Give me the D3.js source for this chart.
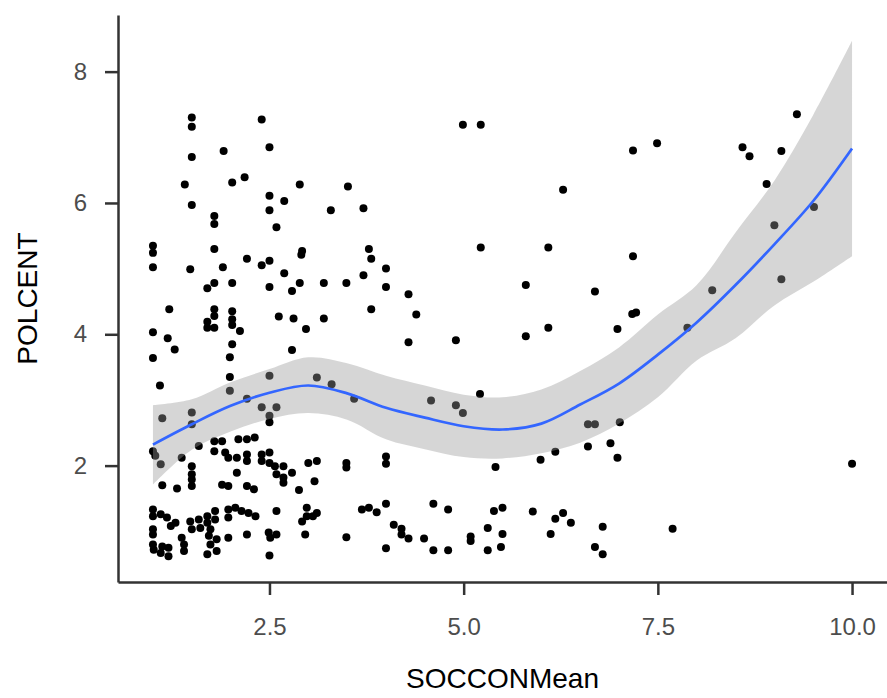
<!doctype html>
<html>
<head>
<meta charset="utf-8">
<title>POLCENT by SOCCONMean</title>
<script src="https://d3js.org/d3.v7.min.js"></script>
<style type="text/css">
  body { margin:0; background:#fff; }
  text { font-family:'Liberation Sans', Arial, sans-serif; }
</style>
</head>
<body>
<svg></svg>
<script type="text/javascript">

let socconMean = [
  1.50,1.50,2.40,1.50,1.91,2.50,1.41,2.02,2.18,2.89,2.50,2.69,2.50,1.50,1.79,1.79,2.59,1.00,1.00,1.79,
  2.92,2.91,2.21,2.50,2.40,1.00,1.48,1.90,2.69,1.79,1.70,2.02,2.50,2.89,2.79,1.21,1.79,1.79,1.70,1.70,
  1.79,2.02,2.02,2.02,2.12,2.62,2.81,2.97,1.00,1.19,1.28,1.00,2.02,1.99,2.79,1.09,1.99,1.99,2.50,2.21,
  1.12,1.50,1.50,2.40,2.59,2.50,2.50,1.00,1.03,1.10,1.59,1.37,1.50,1.50,1.50,1.50,1.12,1.31,1.79,1.89,
  1.79,1.93,2.10,2.21,2.31,1.97,2.08,2.21,2.21,2.08,1.89,1.97,2.21,2.30,2.40,2.40,2.50,2.50,2.57,2.68,
  2.59,2.68,2.79,2.68,2.88,1.00,1.00,1.10,1.18,1.23,1.29,1.00,1.00,1.00,1.01,1.10,1.20,1.20,1.12,1.37,
  1.40,1.40,1.48,1.50,1.59,1.61,1.70,1.70,1.74,1.80,1.80,1.72,1.82,1.74,1.70,1.82,1.97,1.97,2.06,2.14,
  2.23,2.32,1.97,2.21,2.59,2.49,2.59,2.51,2.50,2.96,4.99,5.22,7.18,7.49,6.28,5.22,6.09,7.18,5.80,6.69,
  5.80,6.09,6.98,7.17,7.22,5.21,6.60,6.69,7.01,6.60,6.89,6.98,6.18,5.99,5.41,5.39,5.50,5.89,6.18,6.28,
  6.38,5.31,5.50,5.09,5.09,5.31,5.48,6.12,6.79,6.69,6.79,9.29,8.59,8.68,9.09,8.90,9.51,9.00,9.09,8.20,
  7.88,10.00,7.69,3.51,3.29,3.71,3.78,3.81,4.00,3.71,3.20,3.49,4.00,4.29,3.81,4.39,3.20,4.29,4.90,3.11,
  3.30,3.59,4.58,4.90,4.99,3.00,3.11,3.49,3.49,4.00,4.00,3.08,2.98,2.98,2.92,3.06,3.11,3.49,3.69,3.78,
  3.88,4.00,4.00,4.10,4.20,4.20,4.29,4.49,4.61,4.80,4.61,4.80
];
let polcent = [
  7.30,7.16,7.27,6.70,6.79,6.85,6.28,6.31,6.39,6.28,6.11,6.03,5.89,5.97,5.80,5.68,5.63,5.35,5.24,5.30,
  5.27,5.21,5.15,5.12,5.05,5.02,4.99,5.02,4.93,4.78,4.70,4.78,4.72,4.78,4.66,4.38,4.38,4.28,4.19,4.10,
  4.10,4.35,4.23,4.14,4.05,4.27,4.24,4.08,4.03,3.94,3.77,3.64,3.85,3.65,3.76,3.22,3.35,3.14,3.37,3.02,
  2.72,2.81,2.63,2.89,2.89,2.76,2.66,2.22,2.15,2.02,2.30,2.12,1.99,1.87,1.79,1.69,1.70,1.65,2.37,2.37,
  2.22,2.20,2.40,2.40,2.43,2.12,2.12,2.17,2.07,1.89,1.71,1.69,1.69,1.64,2.17,2.07,2.20,2.04,1.99,1.99,
  1.87,1.82,1.89,1.74,1.63,1.33,1.23,1.26,1.21,1.08,1.13,1.03,0.95,0.80,0.72,0.67,0.62,0.75,0.77,0.90,
  0.80,0.70,1.15,1.03,1.18,1.05,1.23,1.13,1.03,1.31,1.18,0.93,0.88,0.80,0.65,0.70,1.33,1.21,1.36,1.31,
  1.28,1.23,0.90,0.95,1.31,0.98,0.95,0.90,0.63,0.95,7.19,7.19,6.80,6.91,6.20,5.32,5.32,5.19,4.75,4.65,
  3.97,4.10,4.08,4.31,4.33,3.09,2.63,2.63,2.66,2.29,2.34,2.12,2.21,2.09,1.98,1.31,1.36,1.30,1.19,1.28,
  1.13,1.05,0.96,0.92,0.85,0.71,0.76,0.96,1.07,0.76,0.65,7.35,6.85,6.71,6.79,6.29,5.94,5.66,4.84,4.67,
  4.10,2.03,1.04,6.25,5.89,5.92,5.30,5.15,5.00,4.90,4.78,4.78,4.72,4.61,4.38,4.30,4.24,3.88,3.91,3.34,
  3.24,3.02,2.99,2.92,2.80,2.04,2.07,2.04,1.97,2.14,2.03,1.76,1.36,1.23,1.15,1.23,1.28,0.91,1.33,1.36,
  1.29,1.42,0.74,1.10,1.04,0.95,0.89,0.89,1.42,1.33,0.71,0.71
];

// loess fit with its 95% band, read at half steps
let smoothX     = [1.0, 1.5, 2.0, 2.5, 3.0, 3.5, 4.0, 4.5, 5.0, 5.5, 6.0, 6.5, 7.0, 7.5, 8.0, 8.5, 9.0, 9.5, 10.0];
let smoothFit   = [2.32,2.63,2.91,3.11,3.22,3.10,2.88,2.73,2.60,2.55,2.64,2.93,3.25,3.69,4.18,4.75,5.37,6.03,6.83];
let smoothLower = [1.71,2.24,2.52,2.71,2.80,2.70,2.40,2.25,2.13,2.11,2.19,2.35,2.64,3.04,3.60,3.94,4.44,4.80,5.19];
let smoothUpper = [2.92,3.01,3.27,3.47,3.65,3.56,3.37,3.22,3.08,3.04,3.16,3.44,3.80,4.30,4.75,5.55,6.34,7.34,8.47];

let xTicks = [2.5, 5.0, 7.5, 10.0];
let yTicks = [2, 4, 6, 8];

let w = 887,
    h = 698,
    panelLeft = 118,
    panelRight = 887,
    panelTop = 15,
    panelBottom = 582;

let svg = d3.select('svg')
            .attr('width', w)
            .attr('height', h);

// ggplot-like 5% expansion
function expand(ext) {
    let pad = (ext[1] - ext[0]) * 0.05;
    return [ext[0] - pad, ext[1] + pad];
}

let xScale = d3.scaleLinear()
               .domain(expand(d3.extent(socconMean)))
               .range([panelLeft, panelRight]);
let yScale = d3.scaleLinear()
               .domain(expand(d3.extent(polcent.concat(smoothLower, smoothUpper))))
               .range([panelBottom, panelTop]);

let points = socconMean.map(function(d, i) { return [d, polcent[i]]; });

svg.append('g')
   .selectAll('circle')
   .data(points)
   .enter()
   .append('circle')
   .attr('cx', function(d) { return xScale(d[0]); })
   .attr('cy', function(d) { return yScale(d[1]); })
   .attr('r', 4)
   .attr('fill', '#000');

let band = smoothX.map(function(d, i) {
    return { x: d, fit: smoothFit[i], lo: smoothLower[i], hi: smoothUpper[i] };
});

svg.append('path')
   .datum(band)
   .attr('fill', '#999999')
   .attr('fill-opacity', 0.4)
   .attr('d', d3.area()
                .curve(d3.curveCatmullRom)
                .x(function(d) { return xScale(d.x); })
                .y0(function(d) { return yScale(d.lo); })
                .y1(function(d) { return yScale(d.hi); }));

svg.append('path')
   .datum(band)
   .attr('fill', 'none')
   .attr('stroke', '#3366FF')
   .attr('stroke-width', 2.7)
   .attr('d', d3.line()
                .curve(d3.curveCatmullRom)
                .x(function(d) { return xScale(d.x); })
                .y(function(d) { return yScale(d.fit); }));

// axes
let xAxis = svg.append('g')
               .attr('transform', 'translate(0,' + panelBottom + ')')
               .call(d3.axisBottom(xScale)
                       .tickValues(xTicks)
                       .tickFormat(d3.format('.1f'))
                       .tickSize(13)
                       .tickSizeOuter(0)
                       .tickPadding(23));
let yAxis = svg.append('g')
               .attr('transform', 'translate(' + panelLeft + ',0)')
               .call(d3.axisLeft(yScale)
                       .tickValues(yTicks)
                       .tickFormat(d3.format('d'))
                       .tickSize(13)
                       .tickSizeOuter(0)
                       .tickPadding(18));

[xAxis, yAxis].forEach(function(g) {
    g.select('.domain').attr('stroke', '#333').attr('stroke-width', 2.5);
    g.selectAll('.tick line').attr('stroke', '#333').attr('stroke-width', 2.5);
    g.selectAll('.tick text')
     .attr('fill', '#4D4D4D')
     .style('font-size', '24px')
     .style('font-family', "'Liberation Sans', Arial, sans-serif");
});

svg.append('text')
   .attr('x', (panelLeft + panelRight) / 2)
   .attr('y', 688)
   .attr('text-anchor', 'middle')
   .style('font-size', '28px')
   .text('SOCCONMean');

svg.append('text')
   .attr('transform', 'translate(37,' + ((panelTop + panelBottom) / 2) + ') rotate(-90)')
   .attr('text-anchor', 'middle')
   .style('font-size', '28px')
   .text('POLCENT');

</script>
</body>
</html>
